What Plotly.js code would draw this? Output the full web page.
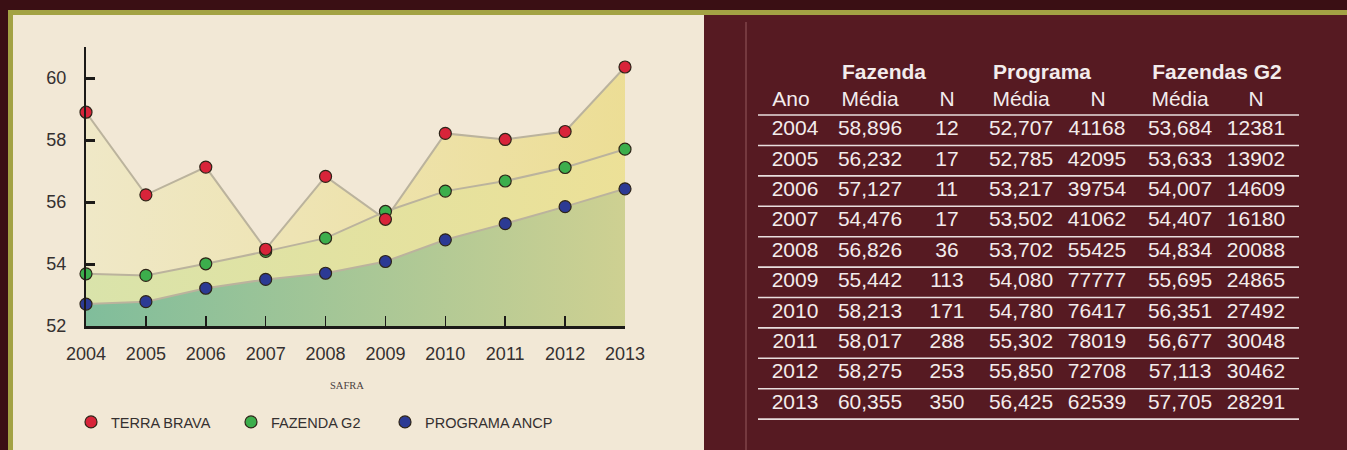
<!DOCTYPE html>
<html>
<head>
<meta charset="utf-8">
<script src="https://cdn.plot.ly/plotly-3.0.1.min.js"></script>
<style>
  html, body { margin: 0; padding: 0; background: #3a0f14; }
  #chart { width: 1347px; height: 450px; }
</style>
</head>
<body>
<div id="chart"></div>
<script>
// ---- Data ----
const years = [2004, 2005, 2006, 2007, 2008, 2009, 2010, 2011, 2012, 2013];
const fazendaMedia = [58.896, 56.232, 57.127, 54.476, 56.826, 55.442, 58.213, 58.017, 58.275, 60.355];
const fazendaN = [12, 17, 11, 17, 36, 113, 171, 288, 253, 350];
const programaMedia = [52.707, 52.785, 53.217, 53.502, 53.702, 54.080, 54.780, 55.302, 55.850, 56.425];
const programaN = [41168, 42095, 39754, 41062, 55425, 77777, 76417, 78019, 72708, 62539];
const g2Media = [53.684, 53.633, 54.007, 54.407, 54.834, 55.695, 56.351, 56.677, 57.113, 57.705];
const g2N = [12381, 13902, 14609, 16180, 20088, 24865, 27492, 30048, 30462, 28291];

const seriesNames = ['PROGRAMA ANCP', 'FAZENDA G2', 'TERRA BRAVA'];
const yTicks = [52, 54, 56, 58, 60];
const xTitle = 'SAFRA';
const groupHeaders = ['Fazenda', 'Programa', 'Fazendas G2'];
const subHeaders = ['Ano', 'Média', 'N', 'Média', 'N', 'Média', 'N'];

// ---- Styles ----
const W = 1347, H = 450;
const lineColor = '#bbb39d';
const markerColors = ['#2c3a94', '#3cae4c', '#d8243a'];
const fillScales = [
  [[0, 'rgba(122,187,152,0.95)'], [1, 'rgba(204,207,142,0.95)']],
  [[0, 'rgba(216,227,168,0.95)'], [1, 'rgba(236,224,148,0.95)']],
  [[0, 'rgba(239,232,198,0.95)'], [1, 'rgba(236,221,146,0.95)']]
];
const seriesData = [programaMedia, g2Media, fazendaMedia];
const legendIds = ['legend3', 'legend2', 'legend'];

const traces = [];
// fills + lines
seriesData.forEach((ys, i) => {
  traces.push({
    type: 'scatter', mode: 'lines', x: years, y: ys,
    line: {color: lineColor, width: 2},
    fill: i === 0 ? 'tozeroy' : 'tonexty',
    fillgradient: {type: 'horizontal', colorscale: fillScales[i]},
    hoverinfo: 'skip', showlegend: false
  });
});
// markers
seriesData.forEach((ys, i) => {
  traces.push({
    type: 'scatter', mode: 'markers', x: years, y: ys, name: seriesNames[i],
    legend: legendIds[i],
    marker: {color: markerColors[i], size: 12, line: {color: '#2e2418', width: 1.2}},
    cliponaxis: false, hoverinfo: 'skip', showlegend: true
  });
});

// ---- Table (drawn on a hidden pixel-like axis pair) ----
const tFont = {family: 'Liberation Sans, Arial, sans-serif', size: 21, color: '#f3ecec'};
const rowY0 = 130, rowStep = 30.4;
const rowYs = years.map((_, i) => rowY0 + i * rowStep);
const colX = [795, 870, 947, 1021, 1097, 1180, 1256];
const fmt = v => v.toFixed(3).replace('.', ',');
const columns = [
  years.map(String),
  fazendaMedia.map(fmt), fazendaN.map(String),
  programaMedia.map(fmt), programaN.map(String),
  g2Media.map(fmt), g2N.map(String)
];
columns.forEach((col, c) => {
  traces.push({
    type: 'scatter', mode: 'text', xaxis: 'x2', yaxis: 'y2',
    x: col.map(() => colX[c]), y: rowYs, text: col,
    textposition: 'middle center', textfont: tFont,
    hoverinfo: 'skip', showlegend: false, cliponaxis: false
  });
});
const subX = [791, 870, 947, 1021, 1098, 1180, 1256];
traces.push({
  type: 'scatter', mode: 'text', xaxis: 'x2', yaxis: 'y2',
  x: subX, y: subHeaders.map(() => 101), text: subHeaders,
  textposition: 'middle center', textfont: tFont,
  hoverinfo: 'skip', showlegend: false, cliponaxis: false
});
const grpX = [884, 1042, 1217];
traces.push({
  type: 'scatter', mode: 'text', xaxis: 'x2', yaxis: 'y2',
  x: grpX, y: groupHeaders.map(() => 74), text: groupHeaders.map(t => '<b>' + t + '</b>'),
  textposition: 'middle center', textfont: tFont,
  hoverinfo: 'skip', showlegend: false, cliponaxis: false
});
// separator lines
const sepYs = [115].concat(rowYs.map(y => y + 15.5));
const sepX = [], sepY = [];
sepYs.forEach(y => { sepX.push(758, 1299, null); sepY.push(y, y, null); });
traces.push({
  type: 'scatter', mode: 'lines', xaxis: 'x2', yaxis: 'y2',
  x: sepX, y: sepY, line: {color: '#e9dede', width: 1.6},
  hoverinfo: 'skip', showlegend: false, cliponaxis: false
});

// ---- Background shapes ----
const px = v => v / W, py = v => 1 - v / H;
const shapes = [
  {type: 'rect', xref: 'paper', yref: 'paper', x0: px(704), x1: 1, y0: 0, y1: py(15), fillcolor: '#561a22', line: {width: 0}, layer: 'below'},
  {type: 'rect', xref: 'paper', yref: 'paper', x0: px(8), x1: 1, y0: py(15), y1: py(10), fillcolor: '#a3a244', line: {width: 0}, layer: 'below'},
  {type: 'rect', xref: 'paper', yref: 'paper', x0: px(8), x1: px(704), y0: 0, y1: py(10), fillcolor: '#a3a244', line: {width: 0}, layer: 'below'},
  {type: 'rect', xref: 'paper', yref: 'paper', x0: px(13), x1: px(704), y0: 0, y1: py(15), fillcolor: '#f2e8d6', line: {width: 0}, layer: 'below'},
  {type: 'line', xref: 'paper', yref: 'paper', x0: px(746), x1: px(746), y0: 0, y1: py(22), line: {color: 'rgba(190,130,135,0.4)', width: 1.5}, layer: 'below'}
];

const tickFont = {family: 'Liberation Sans, Arial, sans-serif', size: 18, color: '#353030'};
const legendFont = {family: 'Liberation Sans, Arial, sans-serif', size: 14.5, color: '#353030'};
const mkLegend = xpx => ({
  orientation: 'h', x: px(xpx), y: py(422), xanchor: 'left', yanchor: 'middle',
  itemwidth: 30, font: legendFont, bgcolor: 'rgba(0,0,0,0)'
});
const layout = {
  width: W, height: H,
  margin: {l: 0, r: 0, t: 0, b: 0, pad: 0},
  paper_bgcolor: '#3a0f14',
  plot_bgcolor: 'rgba(0,0,0,0)',
  showlegend: true,
  legend: mkLegend(71),
  legend2: mkLegend(231),
  legend3: mkLegend(385),
  xaxis: {
    domain: [px(86), px(625)], range: [2004, 2013], tickvals: years,
    ticks: 'inside', ticklen: 10, tickwidth: 1.5, tickcolor: '#1c1a18',
    showline: true, linewidth: 2.5, linecolor: '#1c1a18',
    showgrid: false, zeroline: false, tickfont: tickFont, ticklabelstandoff: 10,
    fixedrange: true
  },
  yaxis: {
    domain: [1 - 326 / H, 1 - 47 / H], range: [52, 61], tickvals: yTicks,
    ticks: 'inside', ticklen: 9, tickwidth: 3, tickcolor: '#1c1a18',
    showline: true, linewidth: 2, linecolor: '#1c1a18',
    showgrid: false, zeroline: false, tickfont: tickFont, ticklabelstandoff: 14,
    fixedrange: true
  },
  xaxis2: {domain: [0, 1], range: [0, W], visible: false, fixedrange: true, anchor: 'y2'},
  yaxis2: {domain: [0, 1], range: [H, 0], visible: false, fixedrange: true, anchor: 'x2'},
  annotations: [{
    text: xTitle, xref: 'paper', yref: 'paper', x: px(347), y: py(385),
    xanchor: 'center', yanchor: 'middle', showarrow: false,
    font: {family: 'Liberation Serif, Times New Roman, serif', size: 10.5, color: '#4a4040'}
  }],
  shapes: shapes
};

Plotly.newPlot('chart', traces, layout, {displayModeBar: false, staticPlot: true});
</script>
</body>
</html>
